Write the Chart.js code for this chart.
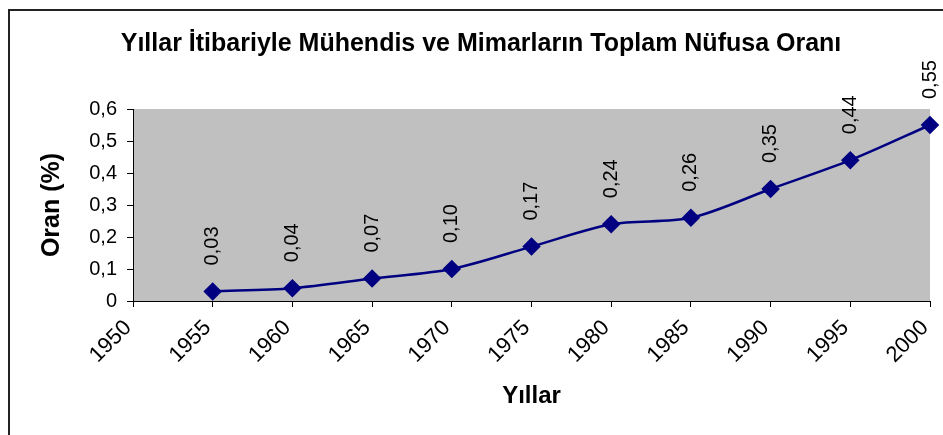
<!DOCTYPE html>
<html>
<head>
<meta charset="utf-8">
<script src="https://cdn.jsdelivr.net/npm/chart.js@4.4.1/dist/chart.umd.min.js"></script>
<style>
  html, body { margin: 0; padding: 0; background: #fff; }
  #wrap { width: 943px; height: 435px; }
</style>
</head>
<body>
<div id="wrap"><canvas id="chart" width="943" height="435"></canvas></div>
<script>
// data
const years = ["1950", "1955", "1960", "1965", "1970", "1975", "1980", "1985", "1990", "1995", "2000"];
const ratio = [null, 0.03, 0.04, 0.07, 0.10, 0.17, 0.24, 0.26, 0.35, 0.44, 0.55];

const FONT = "'Liberation Sans', Arial, sans-serif";
const navy = "#000080";

const comma = (v, d) => v.toFixed(d).replace(".", ",");

// gray plot area + outer frame
const frame = {
  id: "frame",
  beforeDraw(chart) {
    const { ctx, chartArea: a } = chart;
    ctx.save();
    ctx.fillStyle = "#fff";
    ctx.fillRect(0, 0, chart.width, chart.height);
    ctx.fillStyle = "#c0c0c0";
    ctx.fillRect(a.left, a.top, a.right - a.left, a.bottom - a.top);
    ctx.strokeStyle = "#222";
    ctx.lineWidth = 2;
    ctx.strokeRect(9, 10, 1200, 1200);
    ctx.restore();
  }
};

// vertical value labels above the points
const valueLabels = {
  id: "valueLabels",
  afterDatasetsDraw(chart) {
    const { ctx } = chart;
    const meta = chart.getDatasetMeta(0);
    ctx.save();
    ctx.fillStyle = "#000";
    ctx.font = "20px " + FONT;
    ctx.textAlign = "left";
    ctx.textBaseline = "middle";
    meta.data.forEach((pt, i) => {
      const v = ratio[i];
      if (v == null) return;
      ctx.save();
      ctx.translate(pt.x, pt.y - 26);
      ctx.rotate(-Math.PI / 2);
      ctx.fillText(comma(v, 2), 0, 0);
      ctx.restore();
    });
    ctx.restore();
  }
};

new Chart(document.getElementById("chart"), {
  type: "line",
  data: {
    labels: years,
    datasets: [{
      data: ratio,
      borderColor: navy,
      backgroundColor: navy,
      borderWidth: 2.5,
      tension: 0.3,
      pointStyle: "rectRot",
      pointRadius: 7.5,
      pointHoverRadius: 7.5,
      clip: false
    }]
  },
  options: {
    responsive: false,
    animation: false,
    layout: { padding: { left: 32, right: 13, top: 0, bottom: 0 } },
    plugins: {
      legend: { display: false },
      tooltip: { enabled: false },
      title: {
        display: true,
        text: "Yıllar İtibariyle Mühendis ve Mimarların Toplam Nüfusa Oranı",
        color: "#000",
        font: { family: FONT, size: 25, weight: "bold" },
        padding: { top: 29, bottom: 50 }
      }
    },
    scales: {
      x: {
        offset: false,
        grid: { display: true, drawOnChartArea: false, drawTicks: true, tickLength: 6, color: "#000" },
        border: { display: true, color: "#000", width: 1 },
        ticks: {
          color: "#000",
          font: { family: FONT, size: 22 },
          maxRotation: 45,
          minRotation: 45,
          padding: 8,
          labelOffset: -5,
          autoSkip: false
        },
        title: {
          display: true,
          text: "Yıllar",
          color: "#000",
          font: { family: FONT, size: 24, weight: "bold" },
          padding: { top: 0, bottom: 24 }
        },
        afterFit: (s) => {
          s.height = 134;
          s.paddingLeft = 0;
          s.paddingRight = 0;
        }
      },
      y: {
        min: 0,
        max: 0.6,
        grid: { display: true, drawOnChartArea: false, drawTicks: true, tickLength: 6, color: "#000" },
        border: { display: true, color: "#000", width: 1 },
        ticks: {
          stepSize: 0.1,
          color: "#000",
          font: { family: FONT, size: 20 },
          padding: 10,
          callback: (v) => v === 0 ? "0" : comma(v, 1)
        },
        title: {
          display: true,
          text: "Oran (%)",
          color: "#000",
          font: { family: FONT, size: 25, weight: "bold" },
          padding: { top: 5, bottom: 0 }
        },
        afterFit: (s) => { s.width = 101; }
      }
    }
  },
  plugins: [frame, valueLabels]
});
</script>
</body>
</html>
